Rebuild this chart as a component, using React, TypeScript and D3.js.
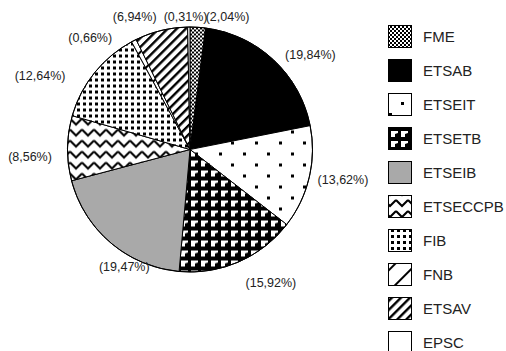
import React from 'react';
import * as d3 from 'd3';

const categories = ['FME', 'ETSAB', 'ETSEIT', 'ETSETB', 'ETSEIB', 'ETSECCPB', 'FIB', 'FNB', 'ETSAV', 'EPSC'];
const values = [2.04, 19.84, 13.62, 15.92, 19.47, 8.56, 12.64, 0.66, 6.94, 0.31];
const fills = ['url(#pFME)', '#000000', 'url(#pEIT)', 'url(#pETB)', '#a9a9a9', 'url(#pZig)', 'url(#pDots)', 'url(#pFNB)', 'url(#pAV)', '#ffffff'];
// layout nudges for the outside labels (relative to the radial anchor)
const labelNudge: [number, number][] = [[28, 17], [18, 15], [7, -4], [21, -4], [31, 3], [-10, 9], [-33, 20], [-31, 22], [-20, 13], [-3, 17]];

const W = 506, H = 351;
const cx = 190, cy = 149.5, r = 122.5, labelR = 150;

export default function App() {
  const pie = d3.pie<number>().sort(null).value(d => d).startAngle(0).endAngle(2 * Math.PI);
  const arcs = pie(values);
  const arc = d3.arc<d3.PieArcDatum<number>>().innerRadius(0).outerRadius(r);
  const fmt = (v: number) => `(${v.toFixed(2).replace('.', ',')}%)`;
  const legendY = d3.scaleBand<string>().domain(categories).range([25, 25 + 34 * categories.length]).paddingInner(0);

  return (
    <svg width={W} height={H} style={{ position: 'absolute', left: 0, top: 0 }} fontFamily="'Liberation Sans', Arial, sans-serif">
      <defs>
        <pattern id="pFME" width={4} height={4} patternUnits="userSpaceOnUse">
          <rect width={4} height={4} fill="#fff" />
          <rect x={0} y={0} width={2} height={2} fill="#000" />
          <rect x={2} y={2} width={2} height={2} fill="#000" />
        </pattern>
        <pattern id="pEIT" width={24} height={22} patternUnits="userSpaceOnUse">
          <rect width={24} height={22} fill="#fff" />
          <rect x={5} y={3} width={3} height={3} fill="#000" />
          <rect x={17} y={14} width={3} height={3} fill="#000" />
        </pattern>
        <pattern id="pETB" width={10} height={10} patternUnits="userSpaceOnUse">
          <rect width={10} height={10} fill="#000" />
          <polygon points="1,1 8,1 8,3 5,4 5,7 1,7" fill="#fff" />
        </pattern>
        <pattern id="pZig" width={12} height={11} patternUnits="userSpaceOnUse">
          <rect width={12} height={11} fill="#fff" />
          <path d="M0,2 L6,8 L12,2" fill="none" stroke="#000" strokeWidth={2} />
        </pattern>
        <pattern id="pDots" width={6} height={6} patternUnits="userSpaceOnUse">
          <rect width={6} height={6} fill="#fff" />
          <rect x={1} y={1} width={3} height={3} fill="#000" />
        </pattern>
        <pattern id="pFNB" width={15} height={15} patternUnits="userSpaceOnUse" patternTransform="rotate(45)">
          <rect width={15} height={15} fill="#fff" />
          <rect x={0} y={0} width={2} height={15} fill="#000" />
        </pattern>
        <pattern id="pAV" width={6.4} height={6.4} patternUnits="userSpaceOnUse" patternTransform="rotate(45)">
          <rect width={6.4} height={6.4} fill="#fff" />
          <rect x={0} y={0} width={2.4} height={6.4} fill="#000" />
        </pattern>
      </defs>
      <g transform={`translate(${cx},${cy})`}>
        {arcs.map((a, i) => (
          <path key={i} d={arc(a) || ''} fill={fills[i]} stroke="#000" strokeWidth={1} />
        ))}
        <circle r={r} fill="none" stroke="#000" strokeWidth={1} />
        {arcs.map((a, i) => {
          const m = (a.startAngle + a.endAngle) / 2;
          const x = labelR * Math.sin(m) + labelNudge[i][0];
          const y = -labelR * Math.cos(m) + labelNudge[i][1];
          return (
            <text key={i} x={x} y={y} textAnchor="middle" dominantBaseline="central" fontSize={12.5} fill="#222">
              {fmt(values[i])}
            </text>
          );
        })}
      </g>
      <g>
        {categories.map((c, i) => {
          const y = legendY(c)!;
          return (
            <g key={c}>
              <rect x={388.5} y={y + 0.5} width={23} height={22} fill={fills[i]} stroke="#000" strokeWidth={1} />
              <text x={423} y={y + 11.5} dominantBaseline="central" fontSize={15} fill="#222">{c}</text>
            </g>
          );
        })}
      </g>
    </svg>
  );
}
